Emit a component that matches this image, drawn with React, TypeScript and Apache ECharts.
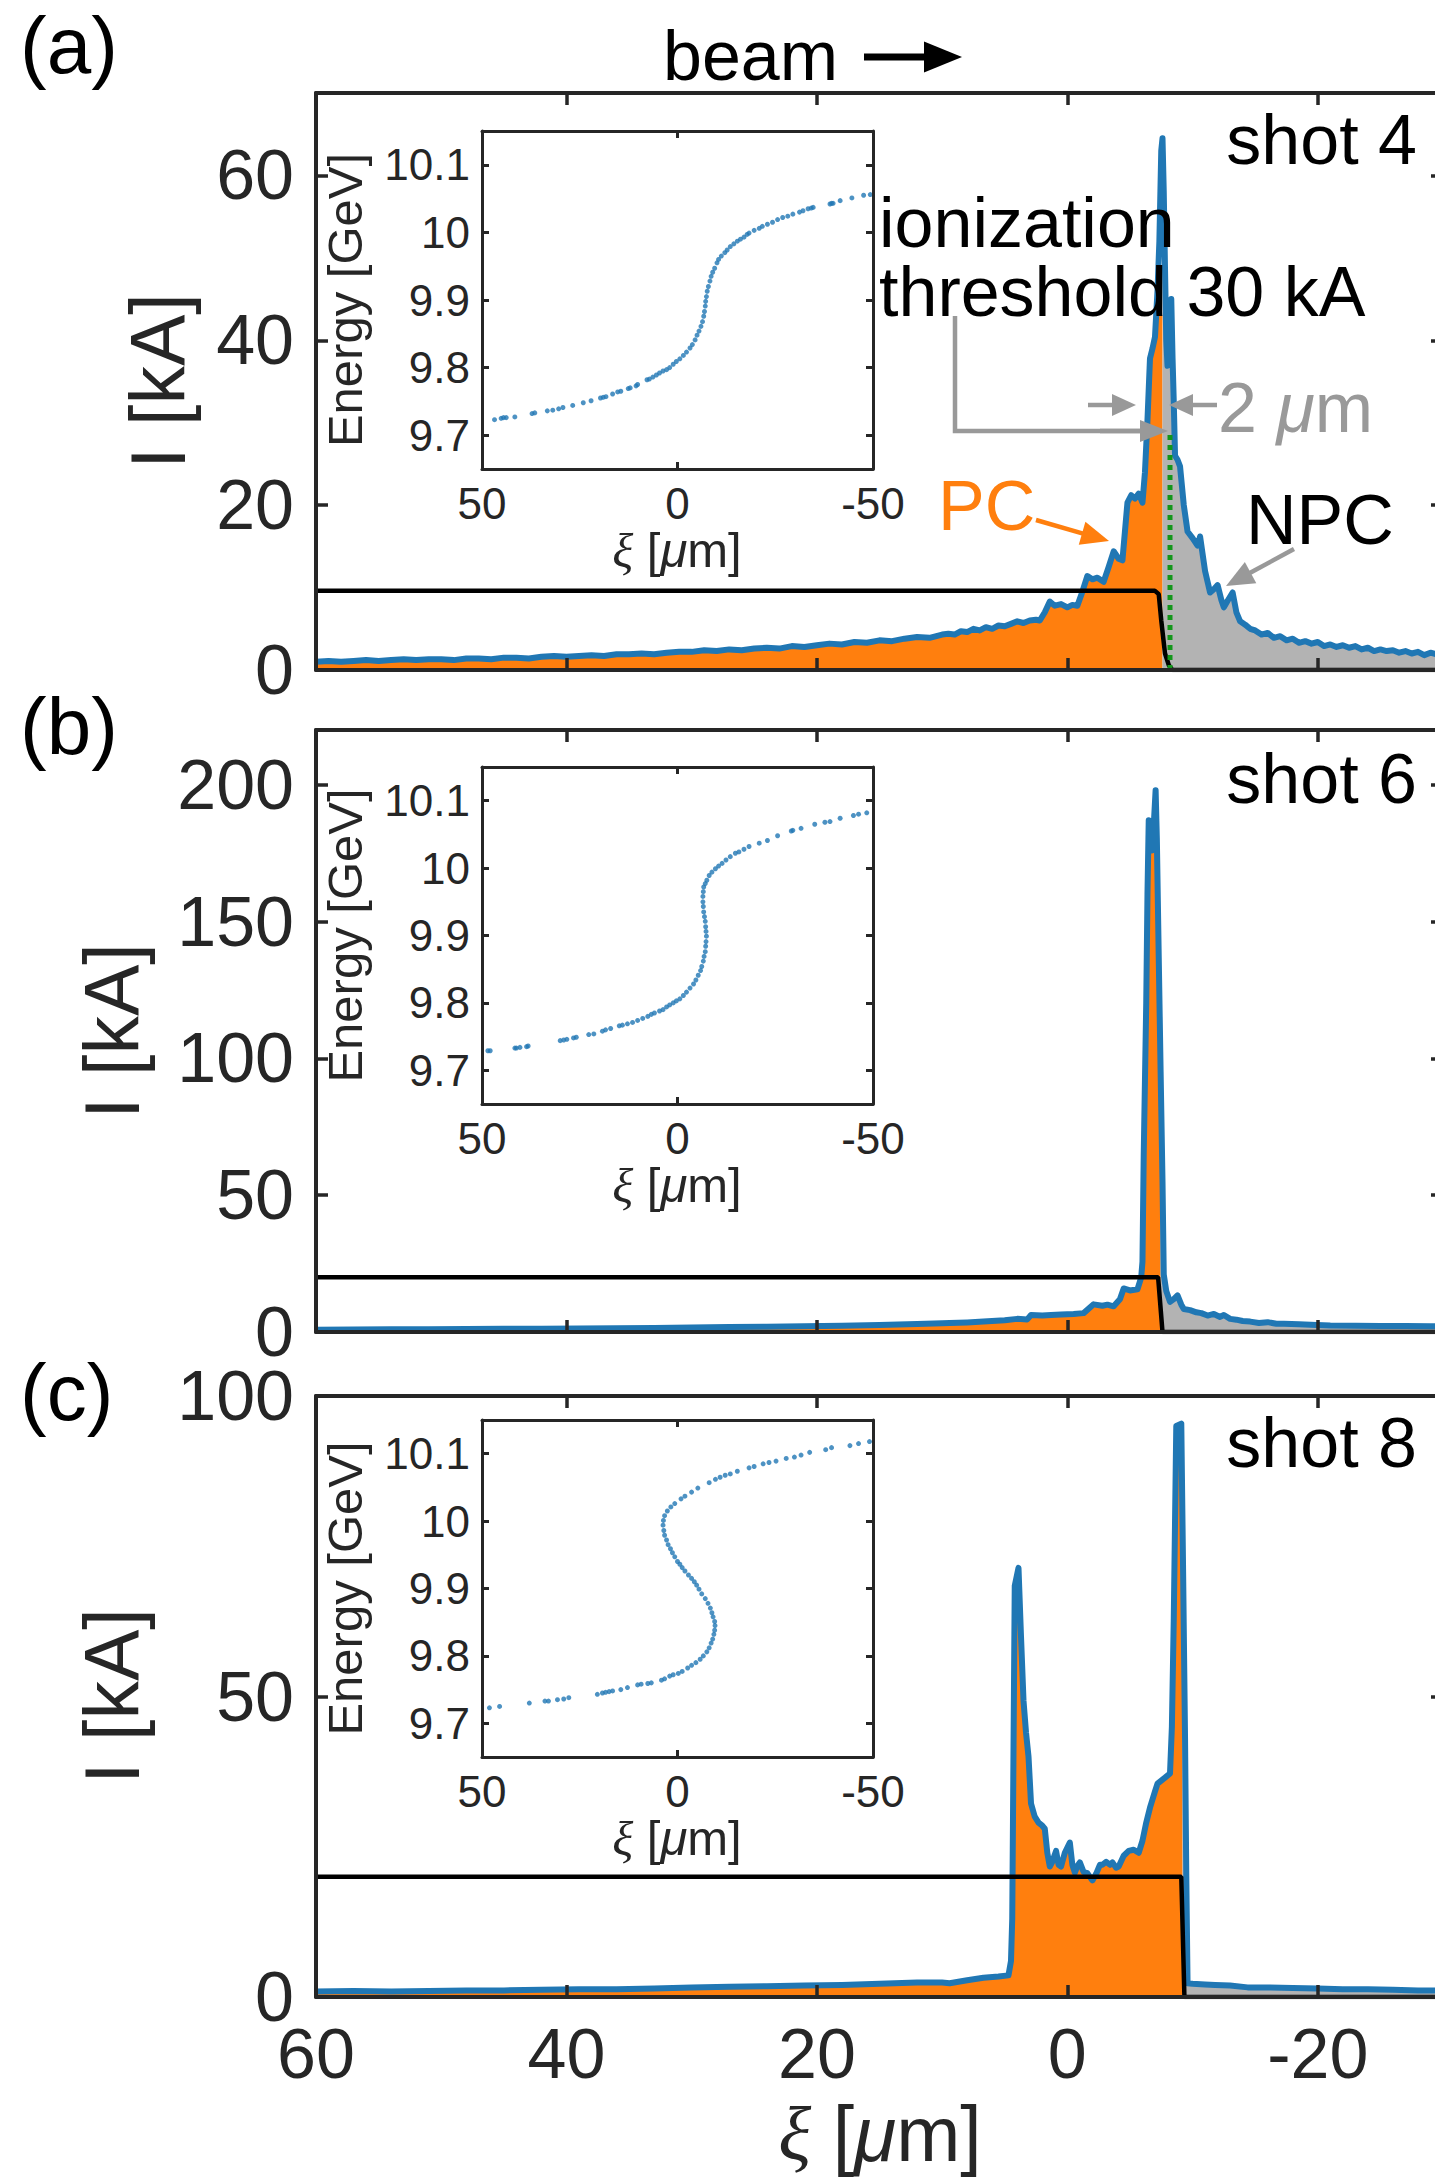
import React, { useEffect, useRef } from "react";
import * as echarts from "echarts";

const FONT = '"Liberation Sans", Arial, Helvetica, sans-serif';
const SERIF = '"Liberation Serif", "DejaVu Serif", serif';
const BLUE = "#2077b4";
const ORANGE = "#ff7f0e";
const GREY_FILL = "#b3b3b3";
const GREY = "#999999";
const AXIS = "#262626";

// ---------- Panel (a) shot 4 : current profile [xi (um), I (kA)]
const shot4Current: number[][] = [
  [60, 1.0], [59, 1.1], [58, 1.0], [57, 1.1], [56, 1.2], [55, 1.1], [54, 1.2], [53, 1.3], [52, 1.2], [51, 1.3],
  [50, 1.3], [49, 1.2], [48, 1.4], [47, 1.4], [46, 1.3], [45, 1.5], [44, 1.5], [43, 1.4], [42, 1.6], [41, 1.7],
  [40, 1.6], [39, 1.7], [38, 1.8], [37, 1.7], [36, 1.9], [35, 1.9], [34, 2.0], [33, 1.9], [32, 2.1], [31, 2.2],
  [30, 2.2], [29, 2.4], [28, 2.3], [27, 2.5], [26, 2.4], [25, 2.6], [24, 2.7], [23, 2.6], [22, 2.9], [21, 2.8],
  [20, 3.0], [19, 3.2], [18, 3.1], [17, 3.4], [16, 3.3], [15, 3.6], [14, 3.5], [13, 3.8], [12, 4.0], [11, 3.9],
  [10, 4.3], [9.5, 4.4], [9, 4.3], [8.5, 4.7], [8, 4.6], [7.5, 5.0], [7, 4.8], [6.5, 5.2], [6, 5.0], [5.5, 5.4],
  [5, 5.3], [4.5, 5.6], [4, 5.9], [3.5, 5.7], [3, 6.0], [2.5, 6.1], [2.2, 6.0], [1.8, 7.0], [1.4, 8.3], [1.0, 7.8],
  [0.5, 8.0], [0, 7.6], [-0.4, 7.9], [-0.8, 7.8], [-1.2, 9.5], [-1.6, 11.4], [-2.0, 11.0], [-2.4, 11.2], [-2.9, 10.7],
  [-3.3, 12.5], [-3.7, 14.4], [-4.1, 13.5], [-4.4, 13.3], [-4.8, 20.3], [-5.1, 21.2], [-5.4, 20.8], [-5.7, 21.4],
  [-6.0, 20.3], [-6.2, 24], [-6.4, 30.3], [-6.6, 37.8], [-6.8, 39], [-7.0, 40.4], [-7.2, 46], [-7.35, 52], [-7.5, 63],
  [-7.6, 64.5], [-7.7, 58], [-7.8, 48.7], [-7.9, 40], [-8.0, 36.9], [-8.15, 40], [-8.3, 45], [-8.4, 38], [-8.5, 32.5],
  [-8.6, 26], [-8.8, 25.5], [-9.0, 24.7], [-9.3, 20], [-9.6, 16.8], [-10.0, 16], [-10.4, 15.1], [-10.6, 16.2],
  [-11.0, 12], [-11.4, 9.4], [-11.7, 9.8], [-12.0, 10.3], [-12.3, 8.5], [-12.5, 7.6], [-12.8, 8.4], [-13.2, 9.4],
  [-13.5, 7.0], [-13.8, 5.9], [-14.2, 5.5], [-14.6, 5.0], [-15.0, 4.8], [-15.5, 4.3], [-16.0, 4.5], [-16.5, 3.9],
  [-17.0, 4.1], [-17.5, 3.6], [-18.0, 3.8], [-18.5, 3.3], [-19.0, 3.5], [-19.5, 3.2], [-20.0, 3.4], [-20.5, 2.9],
  [-21.0, 3.1], [-21.5, 2.8], [-22.0, 3.0], [-22.5, 2.7], [-23.0, 2.9], [-23.5, 2.5], [-24.0, 2.7], [-24.5, 2.3],
  [-25.0, 2.5], [-25.5, 2.3], [-26.0, 2.4], [-26.5, 2.1], [-27.0, 2.3], [-27.5, 2.0], [-28.0, 2.2], [-28.5, 1.8],
  [-29.0, 2.1], [-29.5, 1.9], [-30, 2.0],
];
const shot4Drive: number[][] = [[60, 9.6], [-7.0, 9.6], [-7.3, 9.2], [-7.5, 6], [-7.8, 2], [-8.1, 0.6], [-8.4, 0], [-30, 0]];
const shot4Threshold: number[][] = [[-8.2, 0], [-8.2, 28.5]];
const shot4Edge = { xi: -7.6, pcCap: 43, pcTop: 43, npcCap: 45, npcTop: 37 };

// ---------- Panel (b) shot 6
const shot6Current: number[][] = [
  [60, 0.8], [57, 0.9], [54, 1.0], [51, 1.0], [48, 1.1], [45, 1.2], [42, 1.2], [39, 1.3], [36, 1.4], [33, 1.5],
  [30, 1.6], [27, 1.8], [24, 1.9], [21, 2.1], [18, 2.3], [15, 2.6], [12, 2.9], [10, 3.2], [9.4, 3.3], [8, 3.5],
  [6.7, 3.8], [5, 4.3], [4, 4.8], [3.2, 4.6], [2.9, 6.2], [2, 6.0], [1.3, 6.2], [0.5, 6.4], [-0.5, 6.6], [-1.3, 6.9],
  [-2.1, 10.1], [-2.8, 9.6], [-3.2, 10.0], [-3.7, 9.4], [-4.2, 12], [-4.5, 15.9], [-5.0, 15.2], [-5.6, 15.6],
  [-5.9, 20], [-6.0, 25.7], [-6.1, 64.7], [-6.3, 120], [-6.4, 160], [-6.5, 187], [-6.6, 182], [-6.75, 176],
  [-6.9, 185], [-7.05, 198], [-7.15, 180], [-7.3, 137], [-7.45, 95], [-7.6, 55], [-7.7, 21], [-7.9, 15], [-8.2, 11],
  [-8.5, 12], [-8.8, 13.4], [-9.1, 10], [-9.3, 8.4], [-9.8, 8.0], [-10.3, 7.2], [-10.7, 6.9], [-11.2, 6.0],
  [-11.7, 6.6], [-12.2, 5.5], [-12.5, 6.2], [-13.0, 4.8], [-13.5, 4.5], [-14.0, 4.0], [-14.6, 3.8], [-15.3, 3.3],
  [-16.0, 3.6], [-16.7, 3.0], [-17.3, 3.0], [-18.5, 2.8], [-19.9, 2.6], [-21, 2.4], [-23, 2.3], [-25, 2.2],
  [-27, 2.2], [-29, 2.1], [-30, 2.1],
];
const shot6Drive: number[][] = [[60, 20], [-7.25, 20], [-7.6, 0], [-30, 0]];
const shot6Edge = { xi: -7.45, pcCap: 220, pcTop: 95, npcCap: 220, npcTop: 70 };

// ---------- Panel (c) shot 8
const shot8Current: number[][] = [
  [60, 0.9], [57, 1.0], [54, 0.9], [51, 1.0], [48, 1.1], [45, 1.1], [42, 1.2], [39, 1.3], [36, 1.3], [33, 1.4],
  [30, 1.6], [27, 1.7], [24, 1.8], [21, 1.9], [18, 2.0], [15, 2.2], [12, 2.4], [10, 2.4], [9.4, 2.3], [8, 2.8],
  [6.7, 3.2], [5.5, 3.4], [4.7, 3.6], [4.5, 6], [4.4, 13], [4.2, 68.4], [3.9, 71.4], [3.7, 60], [3.5, 49.3],
  [3.3, 44], [3.1, 40], [2.9, 32.2], [2.6, 30], [2.3, 29], [2.0, 28.5], [1.8, 28], [1.6, 24], [1.4, 21.7],
  [1.2, 22.5], [0.9, 24.3], [0.7, 22], [0.5, 21.7], [0.2, 24], [-0.2, 25.7], [-0.4, 22], [-0.6, 20.7], [-0.8, 21.8],
  [-1.0, 22.4], [-1.3, 20.8], [-1.6, 20.6], [-2.0, 19.4], [-2.3, 20.5], [-2.6, 22], [-2.8, 22], [-3.1, 22.5],
  [-3.4, 22.0], [-3.6, 22.4], [-3.9, 21.5], [-4.1, 21.7], [-4.5, 23.5], [-4.9, 24.3], [-5.3, 24.5], [-5.7, 24],
  [-6.0, 26], [-6.3, 29], [-6.6, 31.5], [-7.0, 34.2], [-7.2, 35.5], [-7.5, 36.0], [-7.8, 36.5], [-8.2, 37.2],
  [-8.35, 45], [-8.5, 63], [-8.7, 95], [-9.1, 95.4], [-9.25, 70], [-9.4, 43], [-9.5, 20], [-9.6, 2.3], [-10, 2.2],
  [-11, 2.1], [-11.8, 2.0], [-13, 1.9], [-14.4, 1.6], [-16, 1.6], [-18, 1.5], [-20, 1.4], [-22, 1.3], [-24, 1.3],
  [-26, 1.2], [-28, 1.1], [-30, 1.1],
];
const shot8Drive: number[][] = [[60, 20], [-9.1, 20], [-9.35, 0], [-30, 0]];
const shot8Edge = { xi: -9.2, pcCap: 100, pcTop: 85, npcCap: 100, npcTop: 60 };

// ---------- Insets: longitudinal phase space [xi (um), E (GeV)]
const inset4: number[][] = [
  [46.8, 9.723], [45.1, 9.725], [44.5, 9.726], [43.8, 9.726], [41.6, 9.727], [37.2, 9.732], [36.5, 9.733], [33.3, 9.736],
  [31.9, 9.737], [30.4, 9.739], [29.3, 9.741], [26.8, 9.744], [24.1, 9.748], [22.1, 9.751], [19.7, 9.755], [19.0, 9.756],
  [18.3, 9.757], [16.6, 9.761], [15.3, 9.764], [14.5, 9.765], [12.6, 9.769], [12.1, 9.770], [10.6, 9.773], [10.2, 9.775],
  [7.8, 9.782], [7.2, 9.783], [6.3, 9.786], [5.4, 9.789], [4.6, 9.792], [3.7, 9.795], [2.8, 9.797], [2.0, 9.800],
  [1.1, 9.805], [0.3, 9.809], [-0.6, 9.813], [-1.5, 9.818], [-2.3, 9.823], [-3.2, 9.829], [-3.8, 9.834], [-4.5, 9.841],
  [-5.0, 9.848], [-5.5, 9.854], [-6.0, 9.861], [-6.4, 9.868], [-6.7, 9.876], [-6.9, 9.883], [-7.1, 9.891], [-7.2, 9.898],
  [-7.4, 9.905], [-7.6, 9.913], [-7.9, 9.920], [-8.3, 9.928], [-8.6, 9.935], [-9.0, 9.941], [-9.5, 9.947], [-10.1, 9.955],
  [-10.5, 9.960], [-11.2, 9.965], [-12.1, 9.970], [-12.7, 9.974], [-13.5, 9.979], [-14.4, 9.983], [-15.3, 9.987],
  [-16.1, 9.990], [-17.0, 9.993], [-17.8, 9.997], [-18.3, 9.999], [-19.6, 10.003], [-20.9, 10.006], [-21.7, 10.009],
  [-23.0, 10.012], [-24.3, 10.015], [-25.6, 10.019], [-26.9, 10.022], [-28.2, 10.024], [-29.5, 10.027], [-31.2, 10.030],
  [-32.1, 10.032], [-33.4, 10.035], [-34.2, 10.036], [-34.7, 10.037], [-39.0, 10.042], [-39.4, 10.043], [-39.8, 10.043],
  [-41.6, 10.047], [-44.6, 10.051], [-47.6, 10.055], [-49.3, 10.056],
];
const inset6: number[][] = [
  [48.5, 9.729], [47.9, 9.729], [41.6, 9.733], [41.2, 9.733], [40.3, 9.734], [38.6, 9.735], [38.2, 9.736], [30.0, 9.744],
  [29.1, 9.745], [28.3, 9.746], [26.6, 9.748], [25.9, 9.749], [22.7, 9.753], [21.4, 9.754], [19.2, 9.758], [18.4, 9.760],
  [17.1, 9.762], [14.9, 9.766], [14.1, 9.767], [12.8, 9.769], [11.5, 9.771], [10.2, 9.774], [8.9, 9.777], [7.6, 9.780],
  [6.7, 9.783], [5.9, 9.785], [4.6, 9.788], [3.7, 9.790], [2.8, 9.794], [2.0, 9.797], [1.1, 9.800], [0.3, 9.803],
  [-0.6, 9.806], [-1.5, 9.811], [-2.3, 9.816], [-3.2, 9.822], [-4.1, 9.828], [-4.7, 9.834], [-5.3, 9.841], [-5.9, 9.848],
  [-6.2, 9.854], [-6.6, 9.862], [-6.8, 9.869], [-7.1, 9.876], [-7.2, 9.884], [-7.3, 9.891], [-7.4, 9.899], [-7.3, 9.906],
  [-7.2, 9.913], [-7.1, 9.921], [-6.9, 9.928], [-6.7, 9.935], [-6.6, 9.943], [-6.5, 9.950], [-6.5, 9.958], [-6.6, 9.965],
  [-6.7, 9.972], [-7.1, 9.977], [-7.5, 9.982], [-8.1, 9.989], [-8.8, 9.994], [-9.7, 9.999], [-10.5, 10.003], [-11.4, 10.007],
  [-12.4, 10.012], [-13.5, 10.017], [-14.8, 10.022], [-15.7, 10.024], [-17.0, 10.028], [-18.3, 10.032], [-20.9, 10.037],
  [-23.0, 10.041], [-25.6, 10.048], [-29.1, 10.055], [-29.5, 10.056], [-31.6, 10.059], [-35.1, 10.065], [-37.7, 10.068],
  [-39.0, 10.069], [-41.6, 10.074], [-45.0, 10.078], [-46.3, 10.080], [-48.4, 10.082],
];
const inset8: number[][] = [
  [48.1, 9.723], [45.5, 9.725], [37.9, 9.730], [33.9, 9.733], [33.0, 9.733], [30.7, 9.735], [29.1, 9.736], [27.8, 9.738],
  [20.5, 9.743], [19.2, 9.745], [18.4, 9.746], [17.5, 9.747], [16.6, 9.748], [14.5, 9.750], [12.8, 9.753], [10.2, 9.757],
  [9.3, 9.758], [7.6, 9.759], [6.7, 9.760], [4.1, 9.764], [3.3, 9.766], [2.0, 9.770], [1.1, 9.772], [-0.2, 9.774],
  [-1.2, 9.777], [-2.6, 9.782], [-3.6, 9.786], [-4.7, 9.790], [-5.8, 9.795], [-6.6, 9.800], [-7.5, 9.806], [-8.1, 9.812],
  [-8.6, 9.819], [-9.0, 9.825], [-9.3, 9.832], [-9.5, 9.838], [-9.6, 9.845], [-9.5, 9.851], [-9.1, 9.858], [-8.8, 9.864],
  [-8.4, 9.871], [-7.8, 9.878], [-7.1, 9.885], [-6.2, 9.892], [-5.5, 9.899], [-4.9, 9.905], [-4.3, 9.910], [-3.6, 9.915],
  [-2.8, 9.920], [-1.9, 9.926], [-1.2, 9.931], [-0.6, 9.936], [0.0, 9.940], [0.7, 9.947], [1.3, 9.953], [1.8, 9.959],
  [2.4, 9.965], [2.8, 9.972], [3.3, 9.979], [3.5, 9.986], [3.7, 9.994], [3.6, 10.001], [3.3, 10.008], [2.6, 10.015],
  [1.7, 10.021], [0.7, 10.026], [-0.9, 10.033], [-1.9, 10.037], [-3.6, 10.043], [-5.2, 10.049], [-8.1, 10.057],
  [-9.7, 10.062], [-10.9, 10.065], [-12.2, 10.068], [-13.5, 10.070], [-15.3, 10.074], [-18.3, 10.079], [-19.6, 10.081],
  [-21.9, 10.085], [-23.4, 10.087], [-25.2, 10.089], [-27.8, 10.093], [-29.9, 10.095], [-31.6, 10.098], [-33.8, 10.102],
  [-37.9, 10.106], [-39.4, 10.109], [-44.1, 10.112], [-46.3, 10.115], [-49.1, 10.118],
];

// ---------- Axis ticks
const xiTicks = [-20, 0, 20, 40, 60];
const yTicksA = [0, 20, 40, 60];
const yTicksB = [0, 50, 100, 150, 200];
const yTicksC = [0, 50, 100];
const insetXTicks = [-50, 0, 50];
const insetYTicks = [9.7, 9.8, 9.9, 10, 10.1];

type Edge = { xi: number; pcCap: number; pcTop: number; npcCap: number; npcTop: number };

function pcFill(data: number[][], e: Edge) {
  const pts = data.filter(([x]) => x > e.xi).map(([x, y]) => [x, Math.min(y, e.pcCap)]);
  pts.push([e.xi, e.pcTop], [e.xi, 0]);
  return pts;
}
function npcFill(data: number[][], e: Edge) {
  const pts: number[][] = [[e.xi, 0], [e.xi, e.npcTop]];
  data.filter(([x]) => x < e.xi).forEach(([x, y]) => pts.push([x, Math.min(y, e.npcCap)]));
  return pts;
}

const grids = [
  { left: 316, top: 93, width: 1127, height: 577 },
  { left: 316, top: 730, width: 1127, height: 602 },
  { left: 316, top: 1396, width: 1127, height: 601 },
  { left: 482, top: 131, width: 391, height: 338 },
  { left: 482, top: 767, width: 391, height: 337 },
  { left: 482, top: 1420, width: 391, height: 337 },
];

function makeAxis(
  dim: "x" | "y",
  gridIndex: number,
  position: string,
  min: number,
  max: number,
  ticks: number[],
  showLabel: boolean,
  inverse: boolean,
  main: boolean,
  fmt?: (v: number) => string
) {
  return {
    type: "value",
    gridIndex,
    position,
    min,
    max,
    inverse,
    z: 10,
    splitLine: { show: false },
    axisLine: { show: true, onZero: false, lineStyle: { color: AXIS, width: main ? 4 : 3 } },
    axisTick: {
      show: true,
      inside: true,
      length: main ? 12 : 7,
      customValues: ticks,
      lineStyle: { color: AXIS, width: main ? 3.5 : 3 },
    },
    axisLabel: {
      show: showLabel,
      customValues: ticks,
      fontFamily: FONT,
      fontSize: main ? 70 : 44,
      color: AXIS,
      margin: main ? 22 : 12,
      formatter: fmt || ((v: number) => String(v)),
    },
  };
}

function arrow(x1: number, y1: number, x2: number, y2: number, color: string, width: number, headLen: number, headW: number) {
  const dx = x2 - x1;
  const dy = y2 - y1;
  const L = Math.hypot(dx, dy);
  const ux = dx / L;
  const uy = dy / L;
  const bx = x2 - ux * headLen;
  const by = y2 - uy * headLen;
  const px = -uy;
  const py = ux;
  return [
    { type: "line", z: 100, shape: { x1, y1, x2: bx + ux * 2, y2: by + uy * 2 }, style: { stroke: color, lineWidth: width } },
    {
      type: "polygon",
      z: 100,
      shape: { points: [[x2, y2], [bx + (px * headW) / 2, by + (py * headW) / 2], [bx - (px * headW) / 2, by - (py * headW) / 2]] },
      style: { fill: color },
    },
  ];
}

function txt(text: string, x: number, y: number, size: number, align: string, color = "#000") {
  return {
    type: "text",
    z: 100,
    x,
    y,
    style: {
      text,
      fontFamily: FONT,
      fontSize: size,
      fill: color,
      textAlign: align,
      textVerticalAlign: "middle",
    },
  };
}

const xiRich = (size: number) => ({
  xi: { fontFamily: SERIF, fontStyle: "italic", fontSize: size, fill: AXIS },
  mu: { fontFamily: FONT, fontStyle: "italic", fontSize: size, fill: AXIS },
});

function buildOption() {
  const xAxis: any[] = [];
  const yAxis: any[] = [];
  const mainY = [
    { max: 70, ticks: yTicksA },
    { max: 220, ticks: yTicksB },
    { max: 100, ticks: yTicksC },
  ];
  for (let g = 0; g < 3; g++) {
    xAxis.push(makeAxis("x", g, "bottom", -30, 60, xiTicks, g === 2, true, true));
    xAxis.push(makeAxis("x", g, "top", -30, 60, xiTicks, false, true, true));
    yAxis.push(makeAxis("y", g, "left", 0, mainY[g].max, mainY[g].ticks, true, false, true));
    yAxis.push(makeAxis("y", g, "right", 0, mainY[g].max, mainY[g].ticks, false, false, true));
  }
  const efmt = (v: number) => (Math.abs(v - 10) < 1e-9 ? "10" : v.toFixed(1));
  for (let g = 3; g < 6; g++) {
    xAxis.push(makeAxis("x", g, "bottom", -50, 50, insetXTicks, true, true, false));
    xAxis.push(makeAxis("x", g, "top", -50, 50, insetXTicks, false, true, false));
    yAxis.push(makeAxis("y", g, "left", 9.65, 10.15, insetYTicks, true, false, false, efmt));
    yAxis.push(makeAxis("y", g, "right", 9.65, 10.15, insetYTicks, false, false, false, efmt));
  }

  const panels = [
    { cur: shot4Current, drive: shot4Drive, edge: shot4Edge },
    { cur: shot6Current, drive: shot6Drive, edge: shot6Edge },
    { cur: shot8Current, drive: shot8Drive, edge: shot8Edge },
  ];
  const series: any[] = [];
  panels.forEach((p, g) => {
    const ax = { xAxisIndex: 2 * g, yAxisIndex: 2 * g };
    series.push({
      type: "line", ...ax, data: pcFill(p.cur, p.edge), symbol: "none", silent: true, z: 1,
      lineStyle: { width: 0, opacity: 0 }, areaStyle: { color: ORANGE, opacity: 1 },
    });
    series.push({
      type: "line", ...ax, data: npcFill(p.cur, p.edge), symbol: "none", silent: true, z: 1,
      lineStyle: { width: 0, opacity: 0 }, areaStyle: { color: GREY_FILL, opacity: 1 },
    });
    series.push({
      type: "line", ...ax, data: p.cur, symbol: "none", silent: true, z: 3,
      lineStyle: { color: BLUE, width: 6, join: "round" },
    });
    series.push({
      type: "line", ...ax, data: p.drive, symbol: "none", silent: true, z: 4,
      lineStyle: { color: "#000", width: 4.5 },
    });
  });
  series.push({
    type: "line", xAxisIndex: 0, yAxisIndex: 0, data: shot4Threshold, symbol: "none", silent: true, z: 5,
    lineStyle: { color: "#13961a", width: 5, type: [5, 5] },
  });
  [inset4, inset6, inset8].forEach((d, i) => {
    const g = 3 + i;
    series.push({
      type: "scatter", xAxisIndex: 2 * g, yAxisIndex: 2 * g, data: d, symbolSize: 5, silent: true,
      itemStyle: { color: BLUE },
    });
  });

  const graphic: any[] = [];
  // panel letters
  graphic.push(txt("(a)", 20, 45, 80, "left", "#000"));
  graphic.push(txt("(b)", 20, 726, 80, "left", "#000"));
  graphic.push(txt("(c)", 20, 1392, 80, "left", "#000"));
  // beam arrow
  graphic.push(txt("beam", 663, 56, 70, "left", "#000"));
  graphic.push(...arrow(864, 57, 962, 57, "#000", 7, 38, 31));
  // shot labels
  graphic.push(txt("shot 4", 1417, 140, 70, "right", "#000"));
  graphic.push(txt("shot 6", 1417, 779, 70, "right", "#000"));
  graphic.push(txt("shot 8", 1417, 1443, 70, "right", "#000"));
  // ionization threshold
  graphic.push(txt("ionization", 879, 223, 70, "left", "#000"));
  graphic.push(txt("threshold 30 kA", 879, 292, 70, "left", "#000"));
  graphic.push({
    type: "polyline", z: 100,
    shape: { points: [[955, 316], [955, 431], [1142, 431]] },
    style: { stroke: GREY, lineWidth: 4.5, fill: null },
  });
  graphic.push(...arrow(1100, 431, 1168, 431, GREY, 4.5, 28, 22));
  // 2 um arrows
  graphic.push(...arrow(1088, 405, 1136, 405, GREY, 4.5, 24, 22));
  graphic.push(...arrow(1217, 405, 1169, 405, GREY, 4.5, 24, 22));
  graphic.push({
    type: "text", z: 100, x: 1218, y: 408,
    style: {
      text: "2 {mu|μ}m", fontFamily: FONT, fontSize: 70, fill: GREY, textAlign: "left", textVerticalAlign: "middle",
      rich: { mu: { fontFamily: FONT, fontStyle: "italic", fontSize: 70, fill: GREY } },
    },
  });
  // PC / NPC
  graphic.push(txt("PC", 938, 506, 70, "left", ORANGE));
  graphic.push(...arrow(1036, 520, 1109, 541, ORANGE, 4.5, 28, 24));
  graphic.push(txt("NPC", 1246, 520, 70, "left", "#000"));
  graphic.push(...arrow(1294, 549, 1226, 586, GREY, 4.5, 28, 24));

  // main axis labels
  [
    { x: 158, y: 381 },
    { x: 112, y: 1031 },
    { x: 112, y: 1696 },
  ].forEach((p) => {
    graphic.push({
      type: "text", z: 100, x: p.x, y: p.y, rotation: Math.PI / 2,
      style: { text: "I [kA]", fontFamily: FONT, fontSize: 77, fill: AXIS, textAlign: "center", textVerticalAlign: "middle" },
    });
  });
  graphic.push({
    type: "text", z: 100, x: 880, y: 2134,
    style: {
      text: "{xi|ξ} [{mu|μ}m]", fontFamily: FONT, fontSize: 77, fill: AXIS, textAlign: "center", textVerticalAlign: "middle",
      rich: xiRich(77),
    },
  });
  // inset labels
  [
    { top: 131, h: 338 },
    { top: 767, h: 337 },
    { top: 1420, h: 337 },
  ].forEach((g) => {
    graphic.push({
      type: "text", z: 100, x: 345, y: g.top + g.h / 2, rotation: Math.PI / 2,
      style: { text: "Energy [GeV]", fontFamily: FONT, fontSize: 49, fill: AXIS, textAlign: "center", textVerticalAlign: "middle" },
    });
    graphic.push({
      type: "text", z: 100, x: 677, y: g.top + g.h + 81,
      style: {
        text: "{xi|ξ} [{mu|μ}m]", fontFamily: FONT, fontSize: 49, fill: AXIS, textAlign: "center", textVerticalAlign: "middle",
        rich: xiRich(49),
      },
    });
  });

  return {
    animation: false,
    backgroundColor: "#fff",
    grid: grids.map((g) => ({ ...g, containLabel: false })),
    xAxis,
    yAxis,
    series,
    graphic: { elements: graphic },
  };
}

export default function App() {
  const ref = useRef<HTMLDivElement>(null);
  useEffect(() => {
    if (!ref.current) return;
    const chart = echarts.init(ref.current, undefined, { renderer: "svg" });
    chart.setOption(buildOption() as any);
    return () => chart.dispose();
  }, []);
  return (
    <div style={{ position: "absolute", left: 0, top: 0, width: 1435, height: 2178, overflow: "hidden", background: "#fff" }}>
      <div ref={ref} style={{ width: 1500, height: 2178 }} />
    </div>
  );
}
